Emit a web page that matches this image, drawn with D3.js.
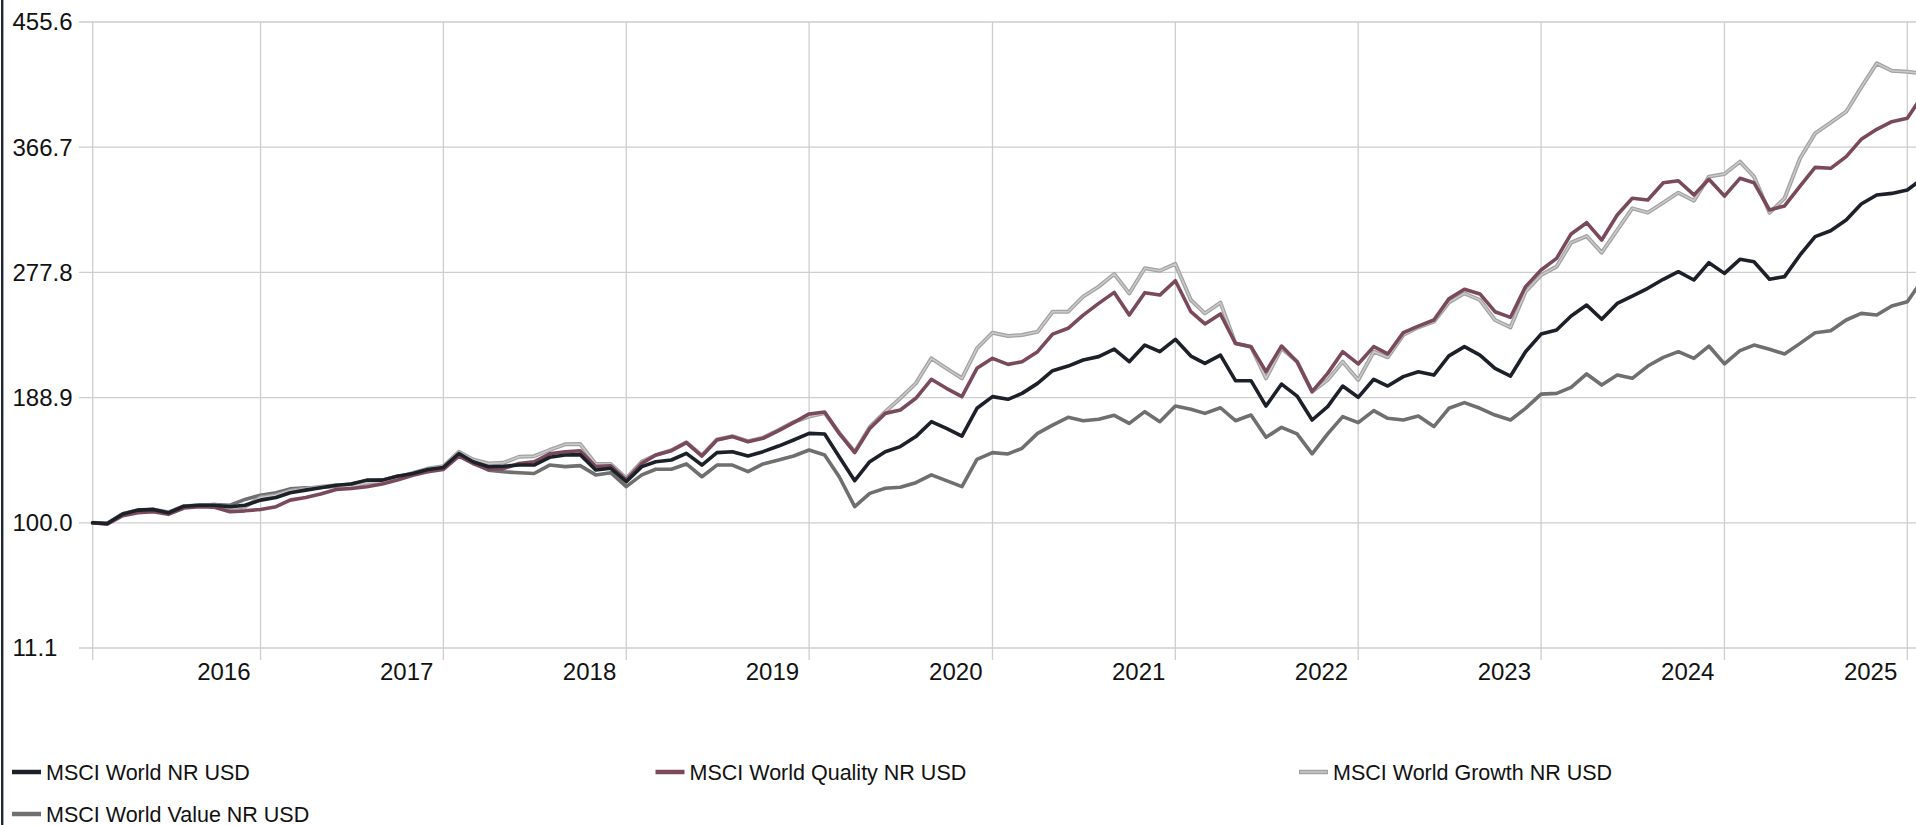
<!DOCTYPE html>
<html>
<head>
<meta charset="utf-8">
<script src="https://cdn.jsdelivr.net/npm/d3@7"></script>
<style>
  body { margin: 0; background: #fff; }
  svg { display: block; font-family: "Liberation Sans", Arial, sans-serif; }
  .grid line { stroke: #cecece; stroke-width: 1.3; }
  .axis text { font-size: 24px; fill: #111; }
  .legend text { font-size: 21.5px; fill: #111; }
  .series { fill: none; stroke-linejoin: round; stroke-linecap: round; }
</style>
</head>
<body>
<script>
// monthly index values, first point = end of Jan 2016
var worldValues = [
  100, 99.5, 106.2, 109, 109.5, 107.1, 111.8, 112.5, 112.5, 111.4, 112.5, 116.1,
  118, 121.3, 123.2, 124.9, 126.7, 127.5, 130.3, 130.3, 133.1, 135, 137.9, 139.3,
  149.2, 143.3, 139.8, 140.2, 141, 141, 146.5, 148.1, 148.4, 137.5, 138.7, 129.2,
  139.9, 143.4, 144.6, 149.3, 141, 149.8, 150.5, 147.4, 150.5, 154.5, 158.8, 163.5,
  163, 146.9, 129.9, 143.4, 150.5, 154.1, 161.2, 171.8, 167, 161.6, 181.3, 189.6,
  187.7, 191.9, 199, 208, 211.3, 215.6, 218, 223.4, 214.4, 226.2, 221.5, 230.3,
  218.4, 213.2, 219.1, 200.9, 200.9, 182.9, 198.5, 190, 173, 182.5, 197.1, 189.1,
  201.9, 197.1, 203.8, 207.3, 204.9, 218.5, 225.1, 219.1, 209.7, 204.2, 221.5, 234,
  236.9, 246.8, 254.6, 244.5, 255.8, 261, 266.5, 272.9, 278.3, 272.4, 284.7, 277.1,
  287.1, 285.4, 272.9, 274.8, 290.2, 303.2, 307.4, 315, 326.4, 332.8, 333.9, 336.3,
  344.6
];
var qualityValues = [
  100, 99, 105, 107.1, 107.8, 106, 110.5, 111.5, 111, 107.8, 108.5, 109.5,
  111.4, 116.1, 118, 120.4, 123.7, 124.4, 125.6, 127.5, 130.3, 133.8, 136.2, 137.9,
  147.3, 142.1, 137.9, 138.6, 142.1, 143.3, 149, 150.5, 151.2, 139.9, 140.5, 130.4,
  142.2, 148.1, 151.2, 156.9, 147.4, 158.8, 161.2, 157.6, 160, 165.4, 171.1, 177.3,
  178.7, 163.5, 149.8, 167, 177.7, 180.1, 188.4, 201.9, 195.5, 189.6, 209.7, 216.8,
  212.5, 214.4, 221.5, 234, 238.1, 247.5, 255.8, 263.6, 247.5, 263.4, 261.7, 271.9,
  249.9, 241.2, 248.3, 227.4, 225, 207.3, 225.5, 214.4, 193.1, 206.1, 221.5, 212.8,
  225.1, 219.9, 235, 239.7, 244, 259, 265.8, 262.5, 249.9, 245.9, 267.7, 279.5,
  287.8, 305.1, 313.1, 300.8, 318.6, 330.4, 329.2, 341.5, 342.9, 332.8, 343.9, 332,
  344.6, 341.5, 322.1, 325, 339.1, 352.4, 351.7, 360, 372.3, 379.4, 384.8, 387.2,
  403.7
];
var growthValues = [
  100, 99.5, 106.2, 108.5, 109.5, 107.5, 111.8, 112.5, 112.8, 110.3, 111.4, 118,
  119.6, 122.7, 124.1, 125.6, 126.7, 125.6, 128.4, 129, 132, 135.5, 138.5, 140.2,
  150.4, 145, 142.1, 142.6, 146.9, 147.3, 151.7, 155.7, 156, 141.7, 141.7, 131.6,
  143.4, 148.1, 151.5, 157.2, 147.8, 159.2, 161.5, 158, 160.5, 165.8, 171.5, 175.4,
  178, 164, 150.5, 168, 178.9, 188.4, 199, 216.8, 209.7, 202.6, 223.9, 235,
  232.6, 233.3, 235.7, 249.9, 249.9, 260.6, 267.7, 276.7, 262.9, 280.7, 279, 283.8,
  258.2, 248.7, 256.3, 227.4, 225, 202.6, 223.9, 214.4, 193.1, 201.4, 214.4, 201.4,
  221.5, 217.5, 233.3, 238.8, 242.8, 256.5, 262.9, 258.2, 244, 238.8, 264.1, 275.9,
  281.9, 298.9, 303.6, 291.8, 307.9, 323.3, 320.2, 327.3, 334.4, 328.7, 345.8, 347.7,
  356.4, 345.8, 320.2, 330.4, 358.8, 376.5, 384.1, 391.9, 409.2, 426.2, 421, 420.3,
  419
];
var valueValues = [
  100, 99.5, 106.5, 109, 109.3, 106.8, 111.8, 112.5, 113, 112.5, 116.6, 119.6,
  121.3, 124.1, 124.9, 125.1, 126, 127.5, 129.8, 130.3, 133.1, 134.5, 137, 139.3,
  148.5, 142.6, 137.4, 136.2, 135.5, 135, 141, 139.9, 140.6, 134, 135.6, 125.7,
  134, 138, 138, 141.8, 132.7, 141, 141, 136.3, 141.8, 144.6, 147.4, 151.7,
  148.1, 132.7, 111.5, 120.9, 124.5, 125.2, 128.5, 134, 129.9, 125.7, 145, 149.8,
  148.9, 152.9, 163.5, 169.4, 174.9, 172.5, 173.5, 176.3, 170.6, 178.9, 171.8, 182.9,
  180.6, 177.7, 181.7, 172.5, 176.5, 160.7, 167.8, 163.1, 148.9, 163.1, 175.4, 171.1,
  179.6, 174.2, 173, 175.8, 168.3, 181.3, 185.3, 181.3, 176.5, 173, 181.3, 191.4,
  191.9, 196.2, 205.7, 197.8, 204.9, 202.6, 211.3, 217.5, 221.5, 216.8, 225.5, 212.8,
  222.2, 226.2, 223.2, 219.9, 227.4, 235, 236.4, 244, 248.7, 247.5, 253.9, 257,
  273
];

var seriesNames = ["MSCI World NR USD", "MSCI World Quality NR USD", "MSCI World Growth NR USD", "MSCI World Value NR USD"];
var yTicks = [11.1, 100.0, 188.9, 277.8, 366.7, 455.6];
var yearTicks = [2016, 2017, 2018, 2019, 2020, 2021, 2022, 2023, 2024, 2025];

// month-end dates for each point
var dates = worldValues.map(function (d, i) {
    return new Date(2016, i + 1, 0);
});

var styles = [
    { color: "#1c2129", width: 3.6, inner: null },
    { color: "#7a4a5c", width: 3.6, inner: null },
    { color: "#a2a2a2", width: 4, inner: "#cacaca" },
    { color: "#6f6f6f", width: 3.6, inner: null }
];

var allSeries = [worldValues, qualityValues, growthValues, valueValues].map(function (vals, k) {
    return {
        name: seriesNames[k],
        style: styles[k],
        points: vals.map(function (v, i) { return { date: dates[i], value: v }; })
    };
});

var width = 1916, height = 825;

var svg = d3.select("body").append("svg")
    .attr("width", width)
    .attr("height", height);

var x = d3.scaleTime()
    .domain([new Date(2016, 0, 31), new Date(2025, 11, 31)])
    .range([92.7, 1907.3]);

var y = d3.scaleLinear()
    .domain([11.1, 455.6])
    .range([648, 22]);

// dark edge on the left
svg.append("rect")
    .attr("x", 1)
    .attr("y", 0)
    .attr("width", 2.4)
    .attr("height", height)
    .attr("fill", "#1f2637");

// grid
var grid = svg.append("g").attr("class", "grid");

grid.selectAll(".hgrid")
    .data(yTicks)
    .enter().append("line")
    .attr("x1", 79)
    .attr("x2", width)
    .attr("y1", function (d) { return y(d); })
    .attr("y2", function (d) { return y(d); });

var vTicks = [x.domain()[0]].concat(yearTicks.map(function (yr) { return new Date(yr, 11, 31); }));

grid.selectAll(".vgrid")
    .data(vTicks)
    .enter().append("line")
    .attr("x1", function (d) { return x(d); })
    .attr("x2", function (d) { return x(d); })
    .attr("y1", y(455.6))
    .attr("y2", 660);

// axis labels
var axis = svg.append("g").attr("class", "axis");

axis.selectAll(".ylab")
    .data(yTicks)
    .enter().append("text")
    .attr("x", 12.5)
    .attr("y", function (d) { return y(d); })
    .attr("dy", "0.35em")
    .text(function (d) { return d.toFixed(1); });

axis.selectAll(".xlab")
    .data(yearTicks)
    .enter().append("text")
    .attr("x", function (d) { return x(new Date(d, 11, 31)) - 10; })
    .attr("y", 680)
    .attr("text-anchor", "end")
    .text(function (d) { return d; });

// lines
var line = d3.line()
    .x(function (d) { return x(d.date); })
    .y(function (d) { return y(d.value); });

var drawOrder = [3, 2, 1, 0];
var lines = svg.append("g").attr("class", "lines");

drawOrder.forEach(function (k) {
    var s = allSeries[k];
    lines.append("path")
        .datum(s.points)
        .attr("class", "series")
        .attr("d", line)
        .attr("stroke", s.style.color)
        .attr("stroke-width", s.style.width);
    if (s.style.inner) {
        lines.append("path")
            .datum(s.points)
            .attr("class", "series")
            .attr("d", line)
            .attr("stroke", s.style.inner)
            .attr("stroke-width", 1.5);
    }
});

// legend
var legend = svg.append("g").attr("class", "legend");

var item = legend.selectAll(".item")
    .data(allSeries)
    .enter().append("g")
    .attr("transform", function (d, i) {
        return "translate(" + (12 + (i % 3) * 643.5) + "," + (772 + Math.floor(i / 3) * 42) + ")";
    });

item.append("line")
    .attr("x1", 0).attr("x2", 29)
    .attr("y1", 0).attr("y2", 0)
    .attr("stroke", function (d) { return d.style.color; })
    .attr("stroke-width", 4.5);

item.filter(function (d) { return d.style.inner; })
    .append("line")
    .attr("x1", 1).attr("x2", 28)
    .attr("y1", 0).attr("y2", 0)
    .attr("stroke", function (d) { return d.style.inner; })
    .attr("stroke-width", 1.5);

item.append("text")
    .attr("x", 34)
    .attr("y", 7.5)
    .text(function (d) { return d.name; });
</script>
</body>
</html>
